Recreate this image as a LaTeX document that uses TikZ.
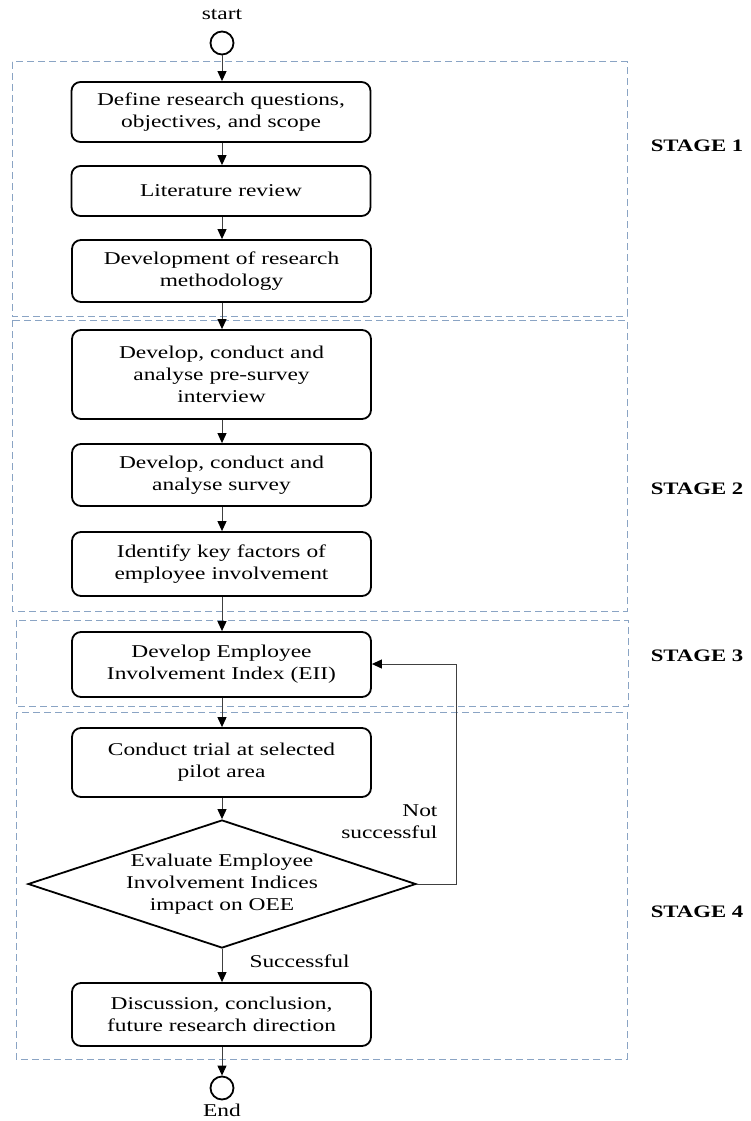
\documentclass[tikz,border=0pt]{standalone}
\usepackage{fontspec}
\setmainfont{Liberation Serif}[FakeStretch=1.3]
\usetikzlibrary{shapes.geometric,arrows.meta}
\definecolor{stageblue}{HTML}{8AA4C4}
\definecolor{linegray}{HTML}{404040}
\begin{document}
\begin{tikzpicture}[x=1pt,y=-1pt,
  procbox/.style={draw=black,line width=1.8pt,rounded corners=9pt,align=center,
    minimum width=299pt,text width=295pt,inner sep=0pt,font=\fontsize{18}{22}\selectfont},
  stagebox/.style={draw=stageblue,line width=1pt,dash pattern=on 7pt off 4pt},
  conn/.style={draw=linegray,line width=1pt,-{Triangle[length=10pt,width=9pt,color=black]}},
  termc/.style={circle,draw=black,line width=1.8pt,minimum size=23pt,inner sep=0pt},
  stagelbl/.style={font=\fontsize{17.5}{20}\selectfont\bfseries},
  lbl/.style={font=\fontsize{18}{22}\selectfont}
]
\useasboundingbox (0,0) rectangle (751,1121);
% stage boxes
\draw[stagebox] (12,62) rectangle (627,316);
\draw[stagebox] (12,320) rectangle (627,611);
\draw[stagebox] (16,620) rectangle (628,706);
\draw[stagebox] (16,712) rectangle (627,1059);
% terminals
\node[lbl] (starttxt) at (222,15) {start};
\node[termc] (start) at (222,43) {};
\node[termc] (end) at (222,1088) {};
\node[lbl] (endtxt) at (222,1110) {End};
% process boxes
\node[procbox,minimum height=60pt] (b1) at (221,112) {Define research questions,\\objectives, and scope};
\node[procbox,minimum height=50pt] (b2) at (221,191) {Literature review};
\node[procbox,minimum height=62pt] (b3) at (221.5,271) {Development of research\\methodology};
\node[procbox,minimum height=89pt] (b4) at (221.5,374.5) {Develop, conduct and\\analyse pre-survey\\interview};
\node[procbox,minimum height=62pt] (b5) at (221.5,475) {Develop, conduct and\\analyse survey};
\node[procbox,minimum height=64pt] (b6) at (221.5,564) {Identify key factors of\\employee involvement};
\node[procbox,minimum height=65pt] (b7) at (221.5,664.5) {Develop Employee\\Involvement Index (EII)};
\node[procbox,minimum height=69pt] (b8) at (221.5,762.5) {Conduct trial at selected\\pilot area};
\node[draw=black,line width=1.8pt,diamond,aspect=3.03,inner sep=0pt,minimum width=388pt,minimum height=128pt,align=center,font=\fontsize{18}{22}\selectfont] (d) at (222,884) {Evaluate Employee\\Involvement Indices\\impact on OEE};
\node[procbox,minimum height=63pt] (b9) at (221.5,1014.5) {Discussion, conclusion,\\future research direction};
% stage labels
\node[stagelbl] (s1) at (697,146) {STAGE 1};
\node[stagelbl] (s2) at (697,489) {STAGE 2};
\node[stagelbl] (s3) at (697,656) {STAGE 3};
\node[stagelbl] (s4) at (697,912) {STAGE 4};
% connectors
\draw[conn] (start) -- (b1.north -| start);
\draw[conn] (b1.south -| start) -- (b2.north -| start);
\draw[conn] (b2.south -| start) -- (b3.north -| start);
\draw[conn] (b3.south -| start) -- (b4.north -| start);
\draw[conn] (b4.south -| start) -- (b5.north -| start);
\draw[conn] (b5.south -| start) -- (b6.north -| start);
\draw[conn] (b6.south -| start) -- (b7.north -| start);
\draw[conn] (b7.south -| start) -- (b8.north -| start);
\draw[conn] (b8.south -| start) -- (d.north);
\draw[conn] (d.south) -- (b9.north -| start);
\draw[conn] (b9.south -| start) -- (end);
\coordinate (fb) at (456,664);
\draw[conn] (d.east) -| (fb) -- (b7.east |- fb);
\node[lbl,align=right,anchor=east] (ns) at (441,822) {Not\\successful};
\node[lbl,anchor=west] (sc) at (246,961) {Successful};
\end{tikzpicture}
\end{document}
